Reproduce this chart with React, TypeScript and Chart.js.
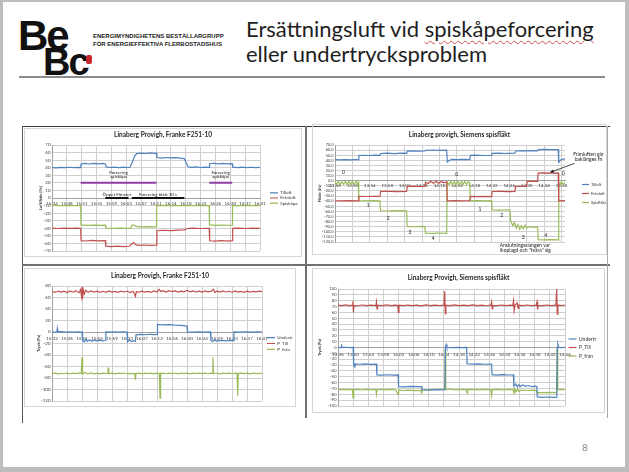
import React, { useEffect, useRef } from 'react';
import { Chart, registerables } from 'chart.js';

Chart.register(...registerables);

const FONT = 'Lato, "DejaVu Sans", sans-serif';
Chart.defaults.font.family = FONT;

type P = [number, number];
type G = [number, number | null];

const BLUE = '#4f81bd';
const RED = '#c0504d';
const GREEN = '#9bbb59';
const PURPLE = '#8e3fa3';
const GRID = '#cfcfcf';

// ================= Top-left: Franke, air flow =================
const tlTimeLabels = ['15:04', '15:08', '15:51', '15:55', '15:59', '16:03', '16:07', '16:11', '16:14', '16:18', '16:22', '16:26', '16:30', '16:37', '16:41'];
const tlNames = ['Tilluft', 'Frånluft', 'Spiskåpa'];
const tlTilluft: P[] = [
  [0, 40.2], [0.3, 39.8], [0.6, 40.4], [0.9, 40.0], [1.2, 40.6], [1.5, 40.1], [1.8, 40.5], [1.93, 40.3], [1.96, 44.8],
  [2.2, 45.6], [2.5, 44.9], [2.8, 45.8], [3.1, 45.2], [3.4, 45.7], [3.59, 45.0], [3.65, 41.0], [3.9, 40.3], [4.2, 40.8],
  [4.5, 40.1], [4.8, 40.7], [5.1, 40.2], [5.25, 40.6], [5.4, 47], [5.55, 55], [5.7, 58.6], [6.0, 59.3], [6.3, 58.8],
  [6.6, 59.5], [6.9, 59.0], [7.03, 59.2], [7.06, 53.4], [7.4, 52.8], [7.7, 53.5], [8.0, 52.9], [8.3, 53.3], [8.6, 52.6],
  [8.9, 52.0], [9.05, 46], [9.15, 41.2], [9.4, 40.4], [9.7, 41.0], [10.0, 40.3], [10.3, 40.9], [10.58, 40.5], [10.61, 45.2],
  [10.9, 45.9], [11.2, 45.1], [11.5, 45.7], [11.8, 45.0], [12.13, 45.4], [12.16, 40.7], [12.5, 40.1], [12.8, 40.8],
  [13.1, 40.2], [13.4, 40.6], [13.7, 40.0], [14, 40.4],
];
const tlFranluft: P[] = [
  [0, -39.8], [0.4, -40.3], [0.8, -39.7], [1.2, -40.2], [1.6, -39.9], [1.93, -40.1], [1.96, -56.3], [2.3, -56.8],
  [2.7, -56.0], [3.1, -56.6], [3.59, -56.2], [3.62, -63.5], [4.0, -64.1], [4.4, -63.6], [4.8, -64.2], [5.2, -63.7],
  [5.38, -60.5], [5.5, -59.0], [5.6, -61.5], [5.8, -62.6], [6.2, -62.1], [6.6, -62.7], [7.03, -62.3], [7.06, -43.2],
  [7.5, -42.6], [8.0, -43.0], [8.5, -42.4], [8.91, -42.0], [9.1, -40.3], [9.5, -39.8], [10.0, -40.3], [10.58, -40.0],
  [10.61, -56.5], [11.0, -57.0], [11.4, -56.3], [11.8, -56.9], [12.13, -56.4], [12.16, -40.1], [12.6, -39.7],
  [13.0, -40.3], [13.5, -39.9], [14, -40.2],
];
const tlSpiskapa: P[] = [
  [0, -9.8], [0.5, -10.2], [1.0, -9.9], [1.5, -10.1], [1.93, -10.0], [1.95, -35.5], [2.4, -36.1], [2.9, -35.7],
  [3.3, -36.2], [3.59, -35.8], [3.62, -39.6], [4.1, -40.1], [4.6, -39.7], [5.1, -40.2], [5.3, -39.8], [5.38, -36.0],
  [5.5, -35.4], [5.65, -37.6], [6.0, -38.2], [6.5, -37.7], [7.0, -38.1], [7.03, -37.9], [7.05, -10.0], [7.6, -9.8],
  [8.2, -10.2], [8.8, -9.9], [9.4, -10.1], [10.0, -9.8], [10.58, -10.0], [10.6, -35.6], [11.0, -36.2], [11.5, -35.7],
  [12.0, -36.0], [12.13, -35.8], [12.15, -10.0], [12.8, -10.1], [13.4, -9.8], [14, -10.0],
];
const tlForceringBars: G[] = [[1.93, 20], [7.03, 20], [8, null], [10.58, 20], [12.13, 20]];
const tlFonsterBars: G[] = [[3.59, 0], [5.15, 0], [5.26, null], [5.37, 0], [8.91, 0]];
const tlNotes = [
  { x: 4.48, y: 33.5, text: 'Forcering' },
  { x: 4.48, y: 28, text: 'spiskåpa' },
  { x: 11.35, y: 33.5, text: 'Forcering' },
  { x: 11.35, y: 28, text: 'spiskåpa' },
  { x: 4.37, y: 5, text: 'Öppet Fönster' },
  { x: 7.14, y: 5, text: 'Forcering blått 30 s' },
];

// ================= Top-right: Siemens, air flow =================
const trTimeLabels = ['13:46', '13:50', '13:54', '13:58', '14:02', '14:06', '14:10', '14:14', '14:18', '14:22', '14:26', '14:30', '14:34', '14:38'];
const trNames = ['Tilluft', 'Frånluft', 'Spisfläkt'];
const trTilluft: P[] = [
  [0, 41.2], [0.3, 40.8], [0.6, 41.5], [0.9, 41.0], [1.2, 41.4], [1.34, 41.1], [1.37, 49.5], [1.7, 49.9], [2.0, 49.4],
  [2.3, 50.1], [2.58, 49.7], [2.62, 53.4], [3.0, 53.9], [3.4, 53.3], [3.8, 54.0], [4.11, 53.6], [4.15, 58.0], [4.5, 58.6],
  [4.8, 58.1], [5.16, 58.5], [5.2, 59.6], [5.6, 60.2], [6.0, 59.5], [6.41, 59.9], [6.45, 36.5], [6.55, 39.5], [6.7, 41.8],
  [7.0, 41.2], [7.3, 41.7], [7.74, 41.3], [7.77, 49.6], [8.1, 50.0], [8.5, 49.4], [8.99, 49.8], [9.02, 53.5], [9.4, 54.0],
  [9.8, 53.4], [10.33, 53.8], [10.36, 58.3], [10.7, 58.9], [11.0, 58.4], [11.3, 58.8], [11.63, 58.5], [11.66, 61.0],
  [12.0, 61.4], [12.4, 60.8], [12.81, 61.2], [12.84, 36.0], [12.95, 40.5], [13.05, 42.6], [13.2, 42.3],
];
const trFranluft: P[] = [
  [0, -39.2], [0.4, -39.5], [0.8, -38.9], [1.34, -39.3], [1.37, -30.5], [1.8, -30.9], [2.2, -30.4], [2.58, -30.8],
  [2.62, -21.0], [3.0, -20.6], [3.5, -21.2], [4.11, -20.8], [4.15, -11.2], [4.5, -10.7], [4.9, -11.3], [5.16, -11.0],
  [5.2, -3.0], [5.35, -5.5], [5.5, -1.2], [5.65, -4.8], [5.8, -0.9], [5.95, -5.0], [6.1, -1.5], [6.25, -4.2], [6.41, -2.0],
  [6.44, -39.4], [6.9, -39.0], [7.3, -39.6], [7.74, -39.2], [7.77, -30.6], [8.2, -31.0], [8.6, -30.5], [8.99, -30.9],
  [9.02, -21.1], [9.5, -20.7], [10.0, -21.2], [10.33, -20.9], [10.36, -11.2], [10.7, -10.8], [11.0, -11.1], [11.03, -1.5],
  [11.3, -0.8], [11.63, -1.3], [11.66, 15.0], [12.0, 15.4], [12.4, 14.8], [12.81, 15.2], [12.84, -39.3], [13.2, -39.0],
];
const trSpisflakt: P[] = [
  [0, -1.5], [0.1, -7.5], [0.2, -1.0], [0.3, -8.0], [0.4, -1.8], [0.5, -7.2], [0.6, -0.8], [0.7, -7.8], [0.8, -1.2],
  [0.9, -8.1], [1.0, -1.6], [1.1, -7.4], [1.2, -1.0], [1.3, -6.8], [1.34, -3.0], [1.36, -39.2], [1.8, -39.6], [2.2, -38.9],
  [2.58, -39.3], [2.61, -58.8], [3.0, -59.3], [3.5, -58.6], [4.11, -59.0], [4.14, -89.5], [4.5, -90.1], [4.9, -89.3],
  [5.16, -89.8], [5.19, -102.6], [5.6, -103.1], [6.0, -102.4], [6.41, -102.9], [6.44, -3.0], [6.55, -7.8], [6.65, -1.2],
  [6.75, -8.0], [6.85, -1.5], [6.95, -7.6], [7.05, -1.0], [7.15, -7.9], [7.25, -1.4], [7.35, -7.5], [7.45, -1.1],
  [7.55, -7.7], [7.65, -1.8], [7.74, -5.0], [7.76, -39.3], [8.2, -38.8], [8.6, -39.5], [8.99, -39.0], [9.02, -57.0],
  [9.5, -57.5], [10.0, -56.8], [10.04, -57.2], [10.08, -78], [10.2, -88], [10.3, -82], [10.4, -93], [10.5, -86],
  [10.6, -95], [10.7, -88], [10.8, -94], [10.9, -87], [11.0, -92], [11.2, -90], [11.4, -91.5], [11.63, -90.5],
  [11.66, -115.5], [12.0, -116.0], [12.4, -115.3], [12.81, -115.8], [12.84, -4.0], [12.92, -8.0], [13.0, -1.5],
  [13.08, -7.5], [13.2, -3.0],
];
const trNotes = [
  { x: 0.48, y: 16, text: '0' }, { x: 1.91, y: -49, text: '1' }, { x: 3.06, y: -74.5, text: '2' },
  { x: 4.3, y: -100.6, text: '3' }, { x: 5.64, y: -112, text: '4' }, { x: 6.98, y: 12, text: '0' },
  { x: 8.32, y: -55.5, text: '1' }, { x: 9.56, y: -68, text: '2' }, { x: 10.8, y: -111, text: '3' },
  { x: 12.1, y: -107, text: '4' }, { x: 13.1, y: 15, text: '0' },
  { x: 14.55, y: 51, text: 'Frånluften går' }, { x: 14.55, y: 42, text: 'baklänges fn' },
  { x: 9.45, y: -127, text: 'Anslutningsslangen var', align: 'left' },
  { x: 9.45, y: -136, text: 'ihoplagd och "tvära" sig', align: 'left' },
];
const trArrows = [{ x1: 13.75, y1: 34, x2: 12.35, y2: 16.5 }];

// ================= Bottom-left: Franke, pressure =================
const blTimeLabels = ['15:02', '15:06', '15:51', '15:55', '15:59', '16:03', '16:07', '16:12', '16:16', '16:20', '16:24', '16:29', '16:33', '16:37', '16:41'];
const pNames = ['Undertr', 'P_Till', 'P_från'];
const blUndertr: P[] = [
  [0, 0.3], [0.2, -0.4], [0.33, 0.2], [0.35, 5.5], [0.38, 0.1], [0.6, 0.5], [0.9, -0.3], [1.2, 0.4], [1.5, -0.2],
  [1.8, 0.3], [2.0, 0], [2.03, -14.5], [2.15, -17], [2.25, -12.5], [2.35, -16.5], [2.5, -13.5], [2.65, -16], [2.8, -14],
  [3.0, -15.5], [3.2, -14.2], [3.4, -15.3], [3.56, -14.8], [3.59, 0.2], [3.9, -0.3], [4.2, 0.4], [4.5, -0.2], [4.8, 0.3],
  [5.0, 0], [5.03, -17], [5.15, -14], [5.3, -16.5], [5.45, -15], [5.56, -16], [5.6, -5], [5.9, -4.2], [6.2, -4.8],
  [6.5, -3.9], [6.8, -4.5], [7.0, -4.0], [7.03, 13.2], [7.4, 12.5], [7.8, 12.8], [8.2, 11.9], [8.6, 11.4], [8.9, 10.8],
  [9.0, 10.5], [9.03, 0.2], [9.4, -0.3], [9.8, 0.4], [10.2, -0.2], [10.56, 0.1], [10.59, -14.6], [10.7, -16.5],
  [10.85, -13.8], [11.0, -15.8], [11.3, -14.5], [11.6, -15.4], [11.9, -14.8], [12.1, -15.1], [12.13, 0.3], [12.5, -0.2],
  [12.9, 0.4], [13.3, -0.3], [13.7, 0.2], [14, 0],
];
const blPTill: P[] = [
  [0, 70.5], [0.2, 68.8], [0.4, 71.2], [0.6, 69.5], [0.8, 70.9], [1.0, 68.6], [1.2, 71.4], [1.4, 69.2], [1.6, 72.0],
  [1.8, 68.0], [1.9, 73.5], [1.97, 62], [2.0, 78], [2.03, 57], [2.08, 74], [2.15, 66], [2.25, 72.5], [2.4, 69],
  [2.6, 71.3], [2.8, 69.4], [3.0, 71.0], [3.2, 69.0], [3.4, 70.8], [3.6, 68.9], [3.8, 71.5], [4.0, 69.3], [4.2, 70.6],
  [4.4, 69.1], [4.6, 71.2], [4.8, 69.6], [5.0, 70.8], [5.2, 68.7], [5.4, 71.0], [5.5, 66], [5.56, 62], [5.62, 70],
  [5.8, 69.2], [6.0, 71.1], [6.2, 69.5], [6.4, 70.7], [6.6, 69.0], [6.8, 71.3], [7.0, 69.4], [7.15, 74], [7.25, 70.2],
  [7.4, 71.8], [7.6, 69.3], [7.8, 72.0], [8.0, 70.1], [8.2, 71.6], [8.4, 69.5], [8.6, 71.2], [8.8, 69.8], [9.0, 72.5],
  [9.2, 70.0], [9.4, 71.4], [9.6, 69.6], [9.8, 71.0], [10.0, 69.4], [10.2, 71.3], [10.4, 69.7], [10.6, 70.9],
  [10.75, 74.5], [10.85, 69.0], [11.0, 71.0], [11.2, 69.3], [11.4, 71.5], [11.6, 69.6], [11.8, 70.8], [12.0, 69.2],
  [12.2, 71.6], [12.4, 69.5], [12.6, 70.7], [12.8, 69.0], [13.0, 71.1], [13.2, 69.4], [13.4, 70.8], [13.6, 69.7],
  [13.8, 71.2], [14, 70.3],
];
const blPFran: P[] = [
  [0, -72.3], [0.2, -71.5], [0.4, -72.8], [0.6, -71.8], [0.8, -72.6], [1.0, -71.4], [1.2, -72.9], [1.4, -71.6],
  [1.6, -72.4], [1.8, -71.2], [1.95, -72.0], [2.0, -44], [2.04, -72.5], [2.2, -70.5], [2.4, -73.0], [2.6, -71.3],
  [2.8, -72.7], [3.0, -71.5], [3.2, -72.8], [3.4, -71.4], [3.6, -72.2], [3.72, -71.8], [3.75, -62], [3.78, -72.5],
  [4.0, -71.6], [4.2, -72.9], [4.4, -71.7], [4.6, -72.4], [4.8, -71.3], [5.0, -72.6], [5.2, -71.8], [5.4, -72.5],
  [5.52, -71.9], [5.56, -83], [5.6, -72.2], [5.8, -71.5], [6.0, -72.7], [6.2, -71.6], [6.4, -72.4], [6.6, -71.4],
  [6.8, -72.8], [7.0, -71.7], [7.16, -72.1], [7.2, -115], [7.24, -72.0], [7.4, -71.5], [7.6, -72.6], [7.8, -71.6],
  [8.0, -72.3], [8.2, -71.3], [8.4, -72.7], [8.6, -71.5], [8.8, -72.4], [9.0, -71.7], [9.2, -72.8], [9.4, -71.4],
  [9.6, -72.5], [9.8, -71.6], [10.0, -72.2], [10.2, -71.4], [10.4, -72.6], [10.6, -71.6], [10.69, -72.0], [10.73, -44],
  [10.77, -72.3], [11.0, -71.3], [11.2, -72.7], [11.4, -71.6], [11.6, -72.4], [11.8, -71.5], [12.0, -72.6], [12.2, -71.7],
  [12.34, -72.0], [12.38, -111], [12.42, -72.2], [12.6, -71.4], [12.8, -72.5], [13.0, -71.6], [13.2, -72.7],
  [13.4, -71.5], [13.6, -72.3], [13.8, -71.8], [14, -72.1],
];

// ================= Bottom-right: Siemens, pressure =================
const brTimeLabels = ['13:46', '13:50', '13:54', '13:58', '14:02', '14:06', '14:10', '14:14', '14:18', '14:22', '14:26', '14:30', '14:34', '14:38', '14:42', '14:46'];
const brUndertr: P[] = [
  [0, 0.2], [0.2, -0.3], [0.22, 5.5], [0.25, 0.1], [0.5, 0.4], [0.8, -0.2], [1.0, 0.1], [1.03, -27.5], [1.07, -33],
  [1.12, -28], [1.4, -28.6], [1.8, -28.1], [2.2, -28.9], [2.54, -28.5], [2.57, -46.8], [2.9, -47.3], [3.3, -46.6],
  [3.7, -47.1], [3.97, -46.9], [4.0, -66.8], [4.4, -67.3], [4.8, -66.5], [5.2, -67.0], [5.52, -66.7], [5.55, -72.3],
  [6.0, -72.8], [6.4, -72.1], [6.8, -72.6], [7.07, -72.2], [7.1, 0.3], [7.15, 5], [7.2, 0.2], [7.5, -0.3], [7.9, 0.2],
  [8.2, -0.2], [8.5, 0.1], [8.53, -27.8], [8.9, -28.4], [9.3, -27.9], [9.7, -28.6], [10.15, -28.2], [10.18, -46.5],
  [10.5, -47.1], [10.9, -46.4], [11.3, -47.0], [11.59, -46.7], [11.62, -66.0], [11.75, -62.5], [11.85, -67.2],
  [11.95, -63.5], [12.05, -66.8], [12.2, -64.0], [12.4, -66.5], [12.6, -65.0], [12.8, -67.0], [13.0, -66.2],
  [13.14, -66.8], [13.17, -84.5], [13.5, -85.2], [13.9, -84.6], [14.2, -85.3], [14.46, -84.9], [14.49, 0.4],
  [14.53, 5.5], [14.58, 0.1], [14.8, -0.2], [15, 0.2],
];
const brPTill: P[] = [
  [0, 72.3], [0.25, 71.5], [0.5, 72.8], [0.75, 71.7], [0.95, 72.5], [0.98, 79], [1.02, 60], [1.06, 72.0], [1.3, 71.4],
  [1.6, 72.6], [1.9, 71.6], [2.2, 72.4], [2.5, 71.5], [2.54, 78], [2.58, 66], [2.62, 72.2], [2.9, 71.6], [3.2, 72.7],
  [3.5, 71.5], [3.8, 72.3], [3.95, 71.8], [3.99, 60], [4.03, 72.4], [4.3, 71.5], [4.6, 72.6], [4.9, 71.7], [5.2, 72.4],
  [5.5, 71.3], [5.8, 72.8], [6.1, 71.6], [6.4, 72.5], [6.7, 71.8], [7.0, 72.4], [7.05, 96], [7.09, 58], [7.13, 72.5],
  [7.4, 71.6], [7.7, 72.7], [8.0, 71.5], [8.3, 72.4], [8.6, 71.7], [8.9, 72.8], [9.2, 71.6], [9.5, 72.5], [9.8, 71.4],
  [10.1, 72.3], [10.15, 78], [10.19, 66], [10.23, 72.1], [10.5, 71.5], [10.8, 72.6], [11.1, 71.7], [11.4, 72.5],
  [11.55, 71.9], [11.6, 80], [11.64, 63], [11.7, 72.5], [11.85, 76], [11.9, 67], [11.95, 72.2], [12.2, 71.5],
  [12.5, 72.6], [12.8, 71.6], [13.1, 72.3], [13.15, 78], [13.19, 65], [13.23, 72.0], [13.5, 71.5], [13.8, 72.6],
  [14.1, 71.7], [14.4, 72.4], [14.45, 100], [14.49, 57], [14.53, 72.6], [14.8, 71.8], [15, 72.3],
];
const brPFran: P[] = [
  [0, -72.2], [0.3, -71.6], [0.6, -72.5], [0.95, -71.8], [1.0, -86], [1.04, -72.3], [1.3, -71.5], [1.6, -72.6],
  [1.9, -71.7], [2.2, -72.4], [2.5, -71.8], [2.54, -80], [2.58, -72.2], [2.9, -71.5], [3.2, -72.5], [3.5, -71.6],
  [3.8, -72.3], [3.97, -80], [4.01, -72.4], [4.3, -73.5], [4.7, -73.0], [5.1, -73.8], [5.5, -73.2], [5.52, -79],
  [5.56, -73.5], [5.9, -72.5], [6.3, -71.8], [6.7, -71.2], [7.05, -70.5], [7.08, -2], [7.12, -72.0], [7.4, -71.4],
  [7.8, -72.5], [8.2, -71.6], [8.5, -72.3], [8.53, -78], [8.57, -72.0], [8.9, -71.5], [9.3, -72.6], [9.7, -71.7],
  [10.1, -72.4], [10.15, -82], [10.19, -72.3], [10.5, -71.5], [10.9, -72.6], [11.3, -71.6], [11.59, -72.2], [11.62, -80],
  [11.66, -70], [11.75, -76], [11.85, -71], [11.95, -75], [12.1, -72.8], [12.5, -73.5], [12.9, -73.0], [13.14, -73.6],
  [13.17, -78], [13.21, -76.8], [13.6, -77.3], [14.0, -76.6], [14.4, -77.1], [14.44, -76], [14.48, -1], [14.52, -72.3],
  [14.8, -71.6], [15, -72.2],
];

// ================= chart plumbing =================
function notesPlugin(notes: any[], arrows: any[], size: number) {
  return {
    id: 'notes',
    afterDraw(chart: any) {
      const { ctx } = chart;
      const xs = chart.scales.x;
      const ys = chart.scales.y;
      ctx.save();
      ctx.fillStyle = '#1a1a1a';
      ctx.strokeStyle = '#1a1a1a';
      for (const a of arrows) {
        const x1 = xs.getPixelForValue(a.x1), y1 = ys.getPixelForValue(a.y1);
        const x2 = xs.getPixelForValue(a.x2), y2 = ys.getPixelForValue(a.y2);
        ctx.lineWidth = 0.8;
        ctx.beginPath(); ctx.moveTo(x1, y1); ctx.lineTo(x2, y2); ctx.stroke();
        const ang = Math.atan2(y2 - y1, x2 - x1);
        const L = 4;
        ctx.beginPath();
        ctx.moveTo(x2, y2);
        ctx.lineTo(x2 - L * Math.cos(ang - 0.45), y2 - L * Math.sin(ang - 0.45));
        ctx.lineTo(x2 - L * Math.cos(ang + 0.45), y2 - L * Math.sin(ang + 0.45));
        ctx.closePath(); ctx.fill();
      }
      ctx.font = `${size}px ${FONT}`;
      ctx.textBaseline = 'middle';
      for (const n of notes) {
        ctx.textAlign = n.align || 'center';
        ctx.fillText(n.text, xs.getPixelForValue(n.x), ys.getPixelForValue(n.y));
      }
      ctx.restore();
    },
  };
}

function ChartBox({ s }: { s: any }) {
  const ref = useRef<HTMLCanvasElement | null>(null);
  useEffect(() => {
    const canvas = ref.current;
    if (!canvas) return;
    const dummy = Math.max(0, s.legendStart - s.legendPad - s.area.right);
    const legendW = s.w - s.area.right - dummy;
    const tLH = s.titleSize * 1.2;
    const yLH = s.yTitleSize * 1.2;
    const datasets: any[] = s.series.map((d: any) => ({
      label: d.label,
      data: d.data.map((p: P) => ({ x: p[0], y: p[1] })),
      borderColor: d.color,
      backgroundColor: d.color,
      borderWidth: 1.2,
      pointRadius: 0,
      tension: 0,
      xAxisID: 'x',
      yAxisID: 'y',
    }));
    (s.extra || []).forEach((d: any) => {
      datasets.push({
        label: '',
        data: d.data.map((p: G) => ({ x: p[0], y: p[1] })),
        borderColor: d.color,
        backgroundColor: d.color,
        borderWidth: 2,
        pointRadius: 0,
        spanGaps: false,
        xAxisID: 'x',
        yAxisID: 'y',
      });
    });
    const chart = new Chart(canvas, {
      type: 'line',
      data: { datasets },
      options: {
        animation: false,
        responsive: false,
        maintainAspectRatio: false,
        events: [],
        layout: { padding: { left: 0, top: 0, right: 0, bottom: s.h - s.area.bottom } },
        plugins: {
          tooltip: { enabled: false },
          title: {
            display: true,
            text: s.title,
            color: '#262626',
            font: { size: s.titleSize, weight: 'bold', family: FONT, lineHeight: 1.2 },
            padding: { top: s.titleY - tLH / 2, bottom: s.area.top - s.titleY - tLH / 2 },
          },
          legend: {
            position: 'right',
            align: 'center',
            fullSize: false,
            maxWidth: legendW,
            labels: {
              usePointStyle: true,
              pointStyle: 'line',
              pointStyleWidth: s.legendLine || 8,
              color: '#333',
              font: { size: s.legendSize, family: FONT },
              padding: s.legendPad,
              filter: (it: any) => it.datasetIndex < s.series.length,
            },
          },
        },
        scales: {
          x: {
            type: 'linear',
            position: { y: 0 },
            min: 0,
            max: s.xMax,
            grid: { color: GRID, lineWidth: 1, drawTicks: false },
            border: { color: '#a0a0a0', width: 1 },
            ticks: {
              stepSize: 1,
              autoSkip: false,
              maxRotation: 0,
              minRotation: 0,
              includeBounds: false,
              padding: s.xLabelPad,
              color: '#404040',
              font: { size: s.xTickSize, family: FONT },
              callback: (v: any) => s.xLabels[Math.round(Number(v))] ?? '',
            },
          },
          y: {
            type: 'linear',
            position: 'left',
            min: s.yMin,
            max: s.yMax,
            grid: { color: GRID, lineWidth: 1, drawTicks: false },
            border: { color: '#a0a0a0', width: 1 },
            ticks: {
              stepSize: s.yStep,
              autoSkip: false,
              padding: 1.5,
              color: '#404040',
              font: { size: s.yTickSize, family: FONT },
              callback: (v: any) => (s.yFmt ? s.yFmt(Number(v)) : String(v)),
            },
            title: {
              display: true,
              text: s.yTitle,
              color: '#262626',
              font: { size: s.yTitleSize, weight: 'bold', family: FONT, lineHeight: 1.2 },
              padding: { top: s.yTitleX - yLH / 2, bottom: 0 },
            },
            afterFit: (sc: any) => { sc.width = s.area.left; },
          },
          gap: {
            type: 'linear',
            position: 'right',
            display: true,
            grid: { display: false },
            ticks: { display: false },
            border: { display: false },
            afterFit: (sc: any) => { sc.width = dummy; },
          },
        },
      } as any,
      plugins: [notesPlugin(s.notes || [], s.arrows || [], s.noteSize || 5) as any],
    });
    return () => chart.destroy();
  }, [s]);
  return (
    <canvas
      ref={ref}
      width={s.w}
      height={s.h}
      style={{ position: 'absolute', left: s.left, top: s.top, width: s.w, height: s.h, border: '1px solid #d6d6d6', boxSizing: 'content-box' }}
    />
  );
}

const commaFmt = (v: number) => v.toFixed(1).replace('.', ',');

const specs: any[] = [
  {
    left: 24, top: 128, w: 276, h: 127,
    area: { left: 27, right: 235, top: 16, bottom: 122 },
    title: 'Linaberg Provigh, Franke F251-10', titleY: 6, titleSize: 6.5,
    legendStart: 245, legendPad: 0.6, legendSize: 4.5,
    xMax: 14, xLabels: tlTimeLabels, xLabelPad: 3, xTickSize: 4.5,
    yMin: -70, yMax: 70, yStep: 10, yTickSize: 4.5, yTitle: 'Luftflöde (l/s)', yTitleX: 16, yTitleSize: 4,
    series: [
      { label: tlNames[0], data: tlTilluft, color: BLUE },
      { label: tlNames[1], data: tlFranluft, color: RED },
      { label: tlNames[2], data: tlSpiskapa, color: GREEN },
    ],
    extra: [
      { data: tlForceringBars, color: PURPLE },
      { data: tlFonsterBars, color: '#111111' },
    ],
    notes: tlNotes, noteSize: 4.5,
  },
  {
    left: 312, top: 124, w: 293, h: 129,
    area: { left: 22, right: 252, top: 20, bottom: 117 },
    title: 'Linaberg provigh, Siemens spisfläkt', titleY: 10, titleSize: 6.5,
    legendStart: 269, legendPad: 5, legendSize: 4, legendLine: 7,
    xMax: 13.2, xLabels: trTimeLabels, xLabelPad: 2, xTickSize: 4.5,
    yMin: -120, yMax: 70, yStep: 10, yTickSize: 4, yFmt: commaFmt, yTitle: 'Flöde (l/s)', yTitleX: 7, yTitleSize: 4,
    series: [
      { label: trNames[0], data: trTilluft, color: BLUE },
      { label: trNames[1], data: trFranluft, color: RED },
      { label: trNames[2], data: trSpisflakt, color: GREEN },
    ],
    notes: trNotes, arrows: trArrows, noteSize: 5,
  },
  {
    left: 24, top: 268, w: 270, h: 137,
    area: { left: 27, right: 237, top: 17, bottom: 132 },
    title: 'Linaberg Provigh, Franke F251-10', titleY: 6.5, titleSize: 6.5,
    legendStart: 242, legendPad: 1.3, legendSize: 4.5,
    xMax: 14, xLabels: blTimeLabels, xLabelPad: 4, xTickSize: 4.5,
    yMin: -120, yMax: 80, yStep: 20, yTickSize: 4.5, yTitle: 'Tryck (Pa)', yTitleX: 14, yTitleSize: 4,
    series: [
      { label: pNames[0], data: blUndertr, color: BLUE },
      { label: pNames[1], data: blPTill, color: RED },
      { label: pNames[2], data: blPFran, color: GREEN },
    ],
  },
  {
    left: 312, top: 268, w: 291, h: 143,
    area: { left: 25, right: 252, top: 20, bottom: 137 },
    title: 'Linaberg Provigh, Siemens spisfläkt', titleY: 9, titleSize: 6.5,
    legendStart: 255.5, legendPad: 3.5, legendSize: 5,
    xMax: 15, xLabels: brTimeLabels, xLabelPad: 4.5, xTickSize: 4.5,
    yMin: -100, yMax: 100, yStep: 10, yTickSize: 4, yTitle: 'Tryck (Pa)', yTitleX: 7, yTitleSize: 4,
    series: [
      { label: pNames[0], data: brUndertr, color: BLUE },
      { label: pNames[1], data: brPTill, color: RED },
      { label: pNames[2], data: brPFran, color: GREEN },
    ],
  },
];

const abs = (o: any): any => ({ position: 'absolute', ...o });

export default function App() {
  return (
    <div style={{ position: 'fixed', left: 0, top: 0, width: 629, height: 472, background: '#ffffff', overflow: 'hidden' }}>
      {/* logo */}
      <div style={abs({ left: 18, top: 15, fontFamily: '"Liberation Sans", Arial, sans-serif', fontWeight: 700, fontSize: 42, lineHeight: '42px', letterSpacing: -2, color: '#111' })}>Be</div>
      <div style={abs({ left: 43, top: 43, fontFamily: '"Liberation Sans", Arial, sans-serif', fontWeight: 700, fontSize: 38, lineHeight: '38px', letterSpacing: -2, color: '#111' })}>Bc</div>
      <div style={abs({ left: 86, top: 55, width: 6, height: 9, background: '#c8262d', borderRadius: 2 })} />
      <div style={abs({ left: 93, top: 32, fontFamily: '"Liberation Sans", Arial, sans-serif', fontWeight: 700, fontSize: 6, lineHeight: '8px', color: '#222', whiteSpace: 'nowrap' })}>
        ENERGIMYNDIGHETENS BESTÄLLARGRUPP<br />FÖR ENERGIEFFEKTIVA FLERBOSTADSHUS
      </div>
      {/* title */}
      <div style={abs({ left: 246, top: 16, fontFamily: 'Lato, sans-serif', fontSize: 22, lineHeight: '25px', color: '#1e1e1e', whiteSpace: 'nowrap' })}>
        Ersättningsluft vid <span style={{ textDecoration: 'underline wavy #d05050', textDecorationThickness: '1px', textUnderlineOffset: '3px' }}>spiskåpeforcering</span>
        <br />eller undertrycksproblem
      </div>
      <div style={abs({ left: 19, top: 76, width: 586, height: 2, background: '#8c8c8c' })} />
      {/* frame lines around the chart grid */}
      <div style={abs({ left: 22, top: 126, width: 588, height: 1, background: '#3c3c3c' })} />
      <div style={abs({ left: 22, top: 126, width: 1, height: 297, background: '#5a5a5a' })} />
      <div style={abs({ left: 305, top: 126, width: 2, height: 292, background: '#707070' })} />
      <div style={abs({ left: 22, top: 264, width: 588, height: 2, background: '#707070' })} />
      <div style={abs({ left: 607, top: 126, width: 1, height: 292, background: '#a8a8a8' })} />
      {specs.map((s, i) => <ChartBox key={i} s={s} />)}
      <div style={abs({ left: 582, top: 441, fontFamily: 'Lato, sans-serif', fontSize: 10, color: '#8c8c8c' })}>8</div>
      {/* slide frame */}
      <div style={abs({ left: 0, top: 0, width: 629, height: 472, boxSizing: 'border-box', borderStyle: 'solid', borderColor: '#bdbdbd', borderWidth: '2px 4px 5px 3px', pointerEvents: 'none' })} />
    </div>
  );
}
